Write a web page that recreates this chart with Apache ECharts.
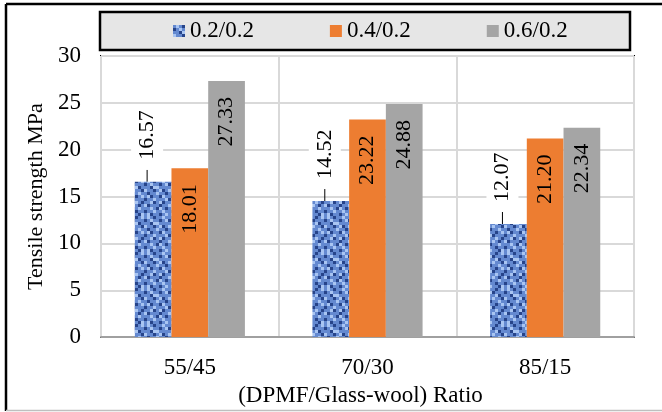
<!DOCTYPE html>
<html>
<head>
<meta charset="utf-8">
<script src="https://cdn.jsdelivr.net/npm/echarts@6/dist/echarts.min.js"></script>
<style>
  html, body { margin: 0; padding: 0; background: #fff; }
  #chart { width: 662px; height: 412px; }
</style>
</head>
<body>
<div id="chart"></div>
<script>
// Tensile strength by DPMF / glass-wool ratio
const categories = ['55/45', '70/30', '85/15'];
const seriesNames = ['0.2/0.2', '0.4/0.2', '0.6/0.2'];
const values02 = [16.57, 14.52, 12.07];
const values04 = [18.01, 23.22, 21.20];
const values06 = [27.33, 24.88, 22.34];
const yTicks = { min: 0, max: 30, interval: 5 };

const FONT = "'Liberation Serif', 'Times New Roman', serif";

// Woven blue fabric texture for the first series
function fabricPattern() {
  const weave = [
    'MLMDMMLMMDML',
    'DMLMMDMLDMMM',
    'MMDLLMMMMLDM',
    'LMMDMLDMLMMD',
    'MDMMLMMDMMLM',
    'MLDMMDLMMDML',
    'DMMLMMMLDMMM',
    'MMLDMLDMMLMD',
    'LDMMMDMMLMDM',
    'MMLMDLMDMMLM',
    'DMMLMMLMMDMM',
    'MLDMMDMLMMDL'
  ];
  const shade = { L: '#a9c5f2', M: '#6489d0', D: '#27448a' };
  const cell = 3;
  const c = document.createElement('canvas');
  c.width = c.height = weave.length * cell;
  const ctx = c.getContext('2d');
  weave.forEach((row, y) => {
    [...row].forEach((k, x) => {
      ctx.fillStyle = shade[k];
      ctx.fillRect(x * cell, y * cell, cell, cell);
    });
  });
  return { image: c, repeat: 'repeat' };
}

const chart = echarts.init(document.getElementById('chart'));

const valueText = p => p.value.toFixed(2);

const insideLabel = {
  show: true,
  position: 'insideTop',
  rotate: 90,
  align: 'right',
  verticalAlign: 'middle',
  distance: 16,
  fontFamily: FONT,
  fontSize: 22,
  color: '#000',
  formatter: valueText
};

chart.setOption({
  animation: false,
  textStyle: { fontFamily: FONT, color: '#000' },
  graphic: [
    { type: 'line', z: 0, shape: { x1: 6, y1: 4, x2: 662, y2: 4 }, style: { stroke: '#000', lineWidth: 2.5 } },
    { type: 'line', z: 0, shape: { x1: 6, y1: 4, x2: 6, y2: 411 }, style: { stroke: '#000', lineWidth: 2.5 } },
    { type: 'line', z: 0, shape: { x1: 6, y1: 410.5, x2: 662, y2: 410.5 }, style: { stroke: '#bfbfbf', lineWidth: 1.5 } },
    { type: 'rect', z: 0, shape: { x: 100, y: 12, width: 530, height: 38 }, style: { fill: '#e6e6e6', stroke: '#000', lineWidth: 2.5 } }
  ],
  legend: {
    data: seriesNames,
    left: 173,
    top: 19,
    padding: 0,
    itemWidth: 12,
    itemHeight: 12,
    itemGap: 76,
    icon: 'rect',
    textStyle: { fontFamily: FONT, fontSize: 23, color: '#000', lineHeight: 24 }
  },
  grid: {
    left: 101, right: 28, top: 56, bottom: 69,
    show: true, borderColor: '#000', borderWidth: 2
  },
  xAxis: {
    type: 'category',
    data: categories,
    name: '(DPMF/Glass-wool) Ratio',
    nameLocation: 'middle',
    nameGap: 42,
    nameTextStyle: { fontFamily: FONT, fontSize: 23, color: '#000', padding: [0, 14, 0, 0] },
    axisLine: { lineStyle: { color: '#a0a0a0', width: 2 } },
    axisTick: { show: false },
    axisLabel: { fontFamily: FONT, fontSize: 23, color: '#000', margin: 19 },
    splitLine: { show: true, lineStyle: { color: '#d9d9d9', width: 2 } }
  },
  yAxis: {
    type: 'value',
    min: yTicks.min,
    max: yTicks.max,
    interval: yTicks.interval,
    name: 'Tensile strength MPa',
    nameLocation: 'middle',
    nameGap: 52,
    nameTextStyle: { fontFamily: FONT, fontSize: 22, color: '#000' },
    axisLine: { show: false },
    axisTick: { show: false },
    axisLabel: { fontFamily: FONT, fontSize: 23, color: '#000', margin: 20 },
    splitLine: { lineStyle: { color: '#d9d9d9', width: 2 } }
  },
  series: [
    {
      name: seriesNames[0],
      type: 'bar',
      data: values02,
      barGap: '0%',
      barCategoryGap: '38%',
      itemStyle: { color: fabricPattern() },
      label: {
        show: true,
        position: 'top',
        rotate: 90,
        align: 'left',
        verticalAlign: 'middle',
        distance: 4,
        fontFamily: FONT,
        fontSize: 22,
        color: '#000',
        backgroundColor: '#fff',
        padding: [5, 0, 5, 10],
        formatter: valueText
      },
      // lift the value label above its bar, joined by a short leader line
      labelLayout: p => ({
        x: p.rect.x + p.rect.width / 2 - 6,
        y: p.rect.y - 12,
        align: 'left',
        verticalAlign: 'middle'
      }),
      labelLine: { show: true, lineStyle: { color: '#000', width: 1 } }
    },
    {
      name: seriesNames[1],
      type: 'bar',
      data: values04,
      itemStyle: { color: '#ed7d31' },
      label: insideLabel
    },
    {
      name: seriesNames[2],
      type: 'bar',
      data: values06,
      itemStyle: { color: '#a5a5a5' },
      label: insideLabel
    }
  ]
});
</script>
</body>
</html>
